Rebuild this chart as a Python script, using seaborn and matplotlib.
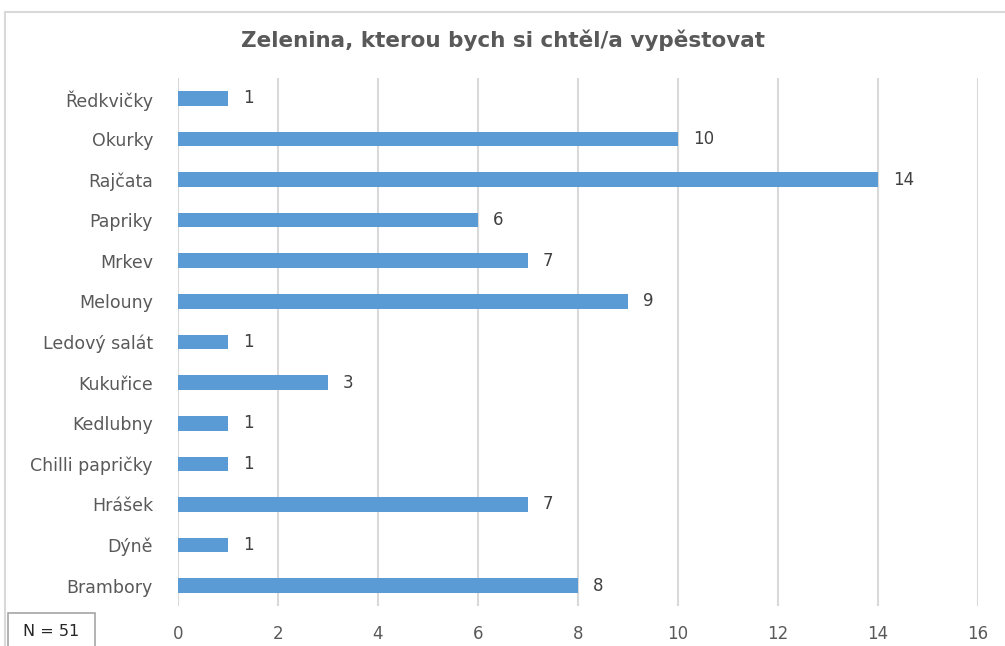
import matplotlib
matplotlib.use("Agg")
import matplotlib.pyplot as plt
import seaborn as sns
import pandas as pd
from matplotlib.patches import Rectangle

categories = ["Ředkvičky", "Okurky", "Rajčata", "Papriky", "Mrkev", "Melouny",
              "Ledový salát", "Kukuřice", "Kedlubny", "Chilli papričky",
              "Hrášek", "Dýně", "Brambory"]
values = [1, 10, 14, 6, 7, 9, 1, 3, 1, 1, 7, 1, 8]
xticks = [0, 2, 4, 6, 8, 10, 12, 14, 16]
title = "Zelenina, kterou bych si chtěl/a vypěstovat"
note = "N = 51"

df = pd.DataFrame({"cat": categories, "val": values})

sns.set_theme(style="white")
plt.rcParams['font.family'] = ['DejaVu Sans']
txt = "#595959"
grid = "#D9D9D9"

fig = plt.figure(figsize=(10.05, 6.46), dpi=100)
ax = fig.add_axes([0.1771, 0.0619, 0.796, 0.8173])

sns.barplot(data=df, x="val", y="cat", order=categories, color="#5B9BD5",
            orient="h", width=0.36, saturation=1, ax=ax, zorder=3, linewidth=0)

ax.set_xlim(0, 16)
ax.set_xticks(xticks)
ax.set_xticklabels([str(t) for t in xticks], color=txt, fontsize=12)
ax.tick_params(axis="y", labelsize=12.5, labelcolor=txt, length=0, pad=18)
ax.tick_params(axis="x", length=0, pad=14)
ax.set_xlabel("")
ax.set_ylabel("")
for s in ax.spines.values():
    s.set_visible(False)
ax.grid(axis="x", color=grid, linewidth=1.5, zorder=0)
ax.set_axisbelow(True)

for i, v in enumerate(values):
    ax.text(v + 0.3, i, str(v), va="center", ha="left", fontsize=12, color="#404040")

fig.text(0.5, 0.937, title, ha="center", va="center", fontsize=15.5,
         fontweight="bold", color=txt)

# chart border
fig.patches.append(Rectangle((5 / 1005, -0.05), 1.1, 1 - 12 / 646 + 0.05,
                             transform=fig.transFigure, fill=False,
                             edgecolor=grid, linewidth=1.5))
# N box
fig.patches.append(Rectangle((8 / 1005, -0.05), 87 / 1005, (646 - 613) / 646 + 0.05,
                             transform=fig.transFigure, fill=True, facecolor="white",
                             edgecolor="#A6A6A6", linewidth=1.2))
fig.text(51 / 1005, 1 - 632 / 646, note, ha="center", va="center", fontsize=11.5,
         color="#262626")

fig.savefig("out.png", dpi=100)
